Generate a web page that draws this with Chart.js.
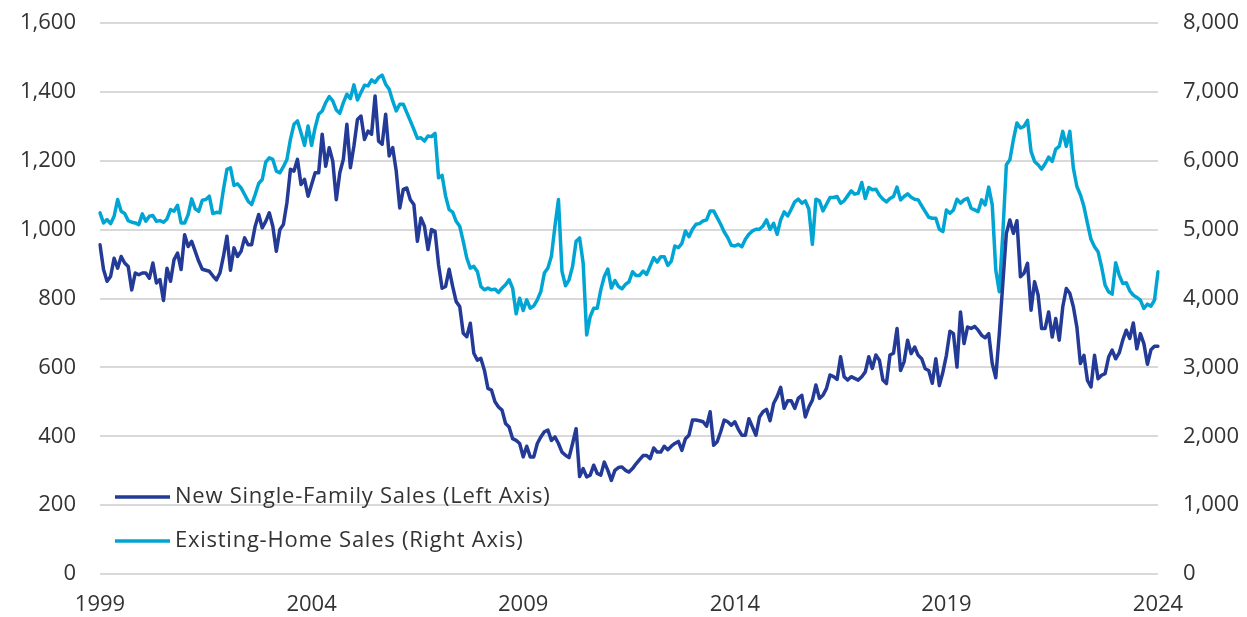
<!DOCTYPE html>
<html><head><meta charset="utf-8">
<script src="https://cdn.jsdelivr.net/npm/chart.js@4.4.1/dist/chart.umd.min.js"></script>
<style>html,body{margin:0;padding:0;background:#fff;}#wrap{width:1247px;height:617px;}</style>
</head><body><div id="wrap"><canvas id="c" width="1247" height="617"></canvas></div>
<script>
const startYear = 1999;
const yearTicks = [1999, 2004, 2009, 2014, 2019, 2024];
const seriesNames = ['New Single-Family Sales (Left Axis)', 'Existing-Home Sales (Right Axis)'];
const seriesColors = ['#233b96', '#00a5d3'];
const leftTicks = [0, 200, 400, 600, 800, 1000, 1200, 1400, 1600];
const rightTicks = [0, 1000, 2000, 3000, 4000, 5000, 6000, 7000, 8000];

// New single-family home sales (thousands, SAAR), monthly from Jan 1999
const newSales = [
956,884,850,864,917,888,922,903,893,825,874,869,
874,874,859,903,845,855,794,888,850,913,932,884,
985,951,966,937,908,885,882,879,866,854,874,922,
981,882,947,922,937,976,956,956,1010,1044,1005,1024,
1049,1010,937,1000,1015,1078,1175,1170,1204,1131,1146,1097,
1131,1165,1165,1277,1184,1238,1199,1087,1165,1204,1306,1180,
1243,1320,1330,1262,1286,1277,1388,1257,1248,1335,1214,1238,
1170,1063,1117,1121,1087,1073,966,1034,1010,942,1000,995,
898,830,835,885,835,791,777,699,689,728,641,621,
626,592,539,534,500,485,476,437,427,393,388,379,
340,371,340,340,379,398,413,418,388,398,379,354,
345,338,379,422,283,306,282,287,316,292,287,325,
301,272,301,309,311,301,296,306,320,332,344,344,
335,366,354,354,371,361,371,379,385,359,393,403,
447,447,445,442,429,471,374,384,413,447,442,432,
442,420,403,403,451,427,403,456,471,478,445,495,
515,542,481,503,503,481,510,519,456,485,505,549,
510,519,539,578,573,565,631,573,563,573,568,563,
573,587,631,597,636,621,563,553,636,641,713,591,
616,679,640,659,635,625,596,591,554,625,547,586,
635,705,698,601,761,669,717,713,719,708,693,686,
698,611,570,698,844,989,1028,989,1026,863,873,902,
766,849,810,713,713,761,688,742,679,776,829,815,
776,717,611,635,562,543,635,567,577,582,630,650,
625,642,679,708,684,729,654,698,669,609,651,661,
661
];

// Existing-home sales (thousands, SAAR), monthly from Jan 1999
const existingSales = [
5243,5097,5146,5087,5194,5437,5267,5233,5131,5107,5097,5073,
5228,5121,5194,5204,5121,5131,5107,5155,5291,5267,5354,5097,
5097,5218,5447,5301,5267,5427,5437,5485,5233,5252,5243,5583,
5874,5898,5641,5665,5607,5510,5413,5364,5510,5670,5728,5980,
6044,6019,5850,5825,5913,6019,6311,6529,6578,6408,6223,6505,
6223,6480,6675,6723,6844,6932,6869,6738,6689,6844,6966,6903,
7102,6883,6990,7097,7087,7175,7136,7209,7243,7112,7039,6869,
6723,6820,6820,6699,6578,6456,6325,6335,6286,6359,6350,6398,
5753,5787,5486,5291,5253,5121,5049,4830,4588,4442,4466,4393,
4175,4126,4151,4126,4136,4088,4151,4199,4272,4151,3777,4005,
3825,3981,3859,3893,3981,4102,4369,4442,4612,5049,5437,4393,
4185,4272,4466,4830,4879,4515,3471,3738,3859,3859,4126,4321,
4427,4151,4262,4175,4141,4204,4243,4389,4335,4335,4398,4350,
4471,4592,4529,4607,4607,4481,4544,4762,4738,4801,4981,4898,
5005,5078,5087,5126,5141,5272,5272,5175,5078,4966,4884,4772,
4762,4786,4752,4859,4932,4981,5005,5005,5053,5141,5005,5092,
4932,5141,5257,5199,5296,5403,5442,5384,5418,5296,4786,5442,
5418,5272,5369,5466,5466,5481,5384,5418,5490,5563,5515,5529,
5684,5451,5612,5578,5587,5500,5442,5403,5451,5481,5617,5432,
5481,5519,5471,5442,5432,5345,5262,5180,5165,5165,5005,4971,
5286,5238,5286,5442,5384,5432,5456,5311,5286,5262,5432,5359,
5617,5359,4413,4097,4947,5942,6015,6306,6549,6476,6500,6587,
6136,5990,5942,5879,5956,6053,5990,6170,6209,6427,6209,6427,
5893,5626,5505,5335,5092,4859,4753,4680,4461,4194,4097,4063,
4520,4340,4219,4228,4112,4049,4015,3976,3855,3918,3889,3976,
4388
];

const months = newSales.map((_, i) => {
  const y = startYear + Math.floor(i / 12);
  const m = (i % 12) + 1;
  return y + '-' + String(m).padStart(2, '0');
});

const FONT = "'Open Sans', Roboto, sans-serif";
const TXT = '#333333';

const legendPlugin = {
  id: 'insideLegend',
  afterDraw(chart) {
    const ctx = chart.ctx;
    const ca = chart.chartArea;
    const rows = [ca.bottom - 77, ca.bottom - 33];
    ctx.save();
    ctx.font = '22px ' + FONT;
    ctx.textBaseline = 'middle';
    ctx.textAlign = 'left';
    if ('letterSpacing' in ctx) ctx.letterSpacing = '0.75px';
    seriesNames.forEach((name, i) => {
      const y = rows[i];
      ctx.strokeStyle = seriesColors[i];
      ctx.lineWidth = 3.5;
      ctx.beginPath();
      ctx.moveTo(ca.left + 15, y);
      ctx.lineTo(ca.left + 70, y);
      ctx.stroke();
      ctx.fillStyle = TXT;
      ctx.fillText(name, ca.left + 75, y);
    });
    ctx.restore();
  }
};

const fixVertical = w => s => { s.width = w; s.paddingTop = 0; s.paddingBottom = 0; };

new Chart(document.getElementById('c'), {
  type: 'line',
  data: {
    labels: months,
    datasets: [
      { label: seriesNames[0], data: newSales, yAxisID: 'yL', borderColor: seriesColors[0],
        borderWidth: 3.5, pointRadius: 0, tension: 0, borderJoinStyle: 'round', borderCapStyle: 'round' },
      { label: seriesNames[1], data: existingSales, yAxisID: 'yR', borderColor: seriesColors[1],
        borderWidth: 3.5, pointRadius: 0, tension: 0, borderJoinStyle: 'round', borderCapStyle: 'round' }
    ]
  },
  options: {
    responsive: false,
    animation: false,
    devicePixelRatio: 1,
    layout: { padding: { top: 23, left: 0, right: 0, bottom: 0 } },
    plugins: { legend: { display: false }, tooltip: { enabled: false } },
    scales: {
      x: {
        type: 'category',
        offset: false,
        grid: { display: false, drawTicks: false },
        border: { display: false },
        afterFit: s => { s.height = 43; },
        ticks: {
          autoSkip: false, maxRotation: 0, minRotation: 0, padding: 18,
          color: TXT, font: { family: FONT, size: 22 },
          callback: function (v, i) {
            const lab = months[i];
            const y = parseInt(lab.slice(0, 4), 10);
            return (lab.slice(5) === '01' && yearTicks.includes(y)) ? String(y) : '';
          }
        }
      },
      yL: {
        position: 'left', min: 0, max: 1600,
        afterFit: fixVertical(100),
        afterBuildTicks: s => { s.ticks = leftTicks.map(v => ({ value: v })); },
        grid: { color: '#d9d9d9', lineWidth: 2, drawTicks: false },
        border: { display: false },
        ticks: { padding: 24, color: TXT, font: { family: FONT, size: 22 },
          callback: v => v.toLocaleString('en-US') }
      },
      yR: {
        position: 'right', min: 0, max: 8000,
        afterFit: fixVertical(89),
        afterBuildTicks: s => { s.ticks = rightTicks.map(v => ({ value: v })); },
        grid: { display: false, drawTicks: false },
        border: { display: false },
        ticks: { padding: 25, color: TXT, font: { family: FONT, size: 22 },
          callback: v => v.toLocaleString('en-US') }
      }
    }
  },
  plugins: [legendPlugin]
});
</script>
</body></html>
